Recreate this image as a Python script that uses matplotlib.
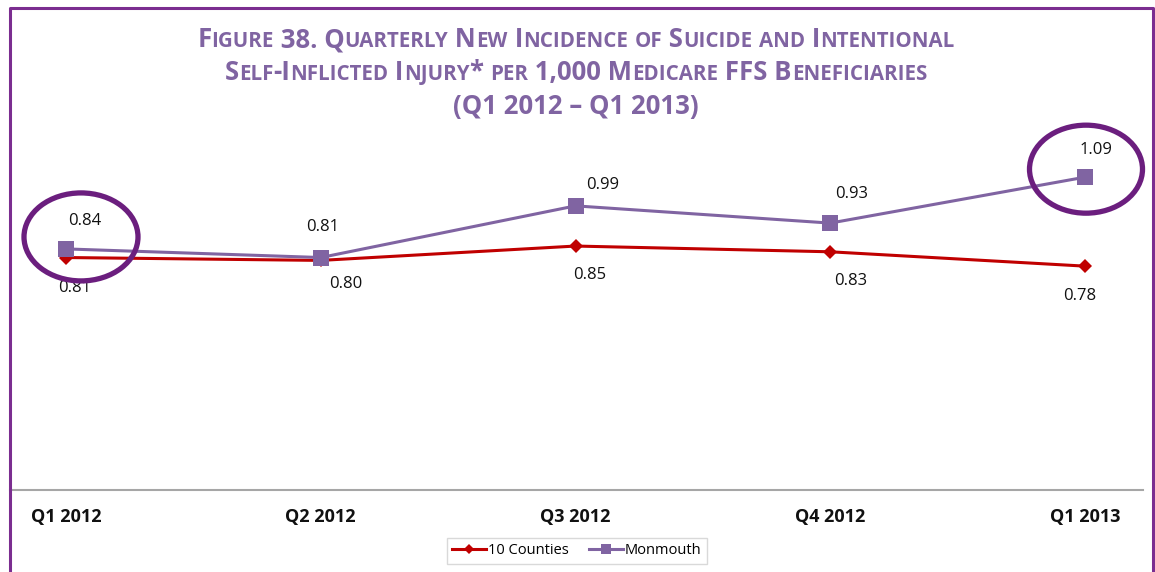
import matplotlib
matplotlib.use('Agg')
import matplotlib.pyplot as plt
import matplotlib.transforms as mtransforms
from matplotlib.patches import Ellipse
from matplotlib.lines import Line2D

# ---------------------------------------------
# data
# ---------------------------------------------
quarters = ['Q1 2012', 'Q2 2012', 'Q3 2012', 'Q4 2012', 'Q1 2013']
counties = [0.81, 0.80, 0.85, 0.83, 0.78]
monmouth = [0.84, 0.81, 0.99, 0.93, 1.09]
highlight = [0, 4]          # Monmouth points that get circled

title_lines = [
    'Figure 38. Quarterly New Incidence of Suicide and Intentional',
    'Self-Inflicted Injury* per 1,000 Medicare FFS Beneficiaries',
    '(Q1 2012 \u2013 Q1 2013)',
]

# ---------------------------------------------
# style
# ---------------------------------------------
RED = '#C00000'
PURPLE = '#8064A2'
TITLE_C = '#8064A2'
FRAME_C = '#7B2D90'
RING_C = '#6B1E7E'
W, H = 1155, 572

# label offsets in pixels (dx, dy), dy positive = up
mon_off = [(19, 28), (2, 31), (27, 21), (21, 29), (11, 27)]
cty_off = [(9, -30), (25, -24), (14, -29), (20, -29), (-5, -30)]
# circles: offset from point, width, height (pixels)
rings = [((15, 12), 114, 88), ((1, 8), 113, 88)]

plt.rcParams['font.family'] = ['Open Sans', 'DejaVu Sans']

fig = plt.figure(figsize=(W / 100, H / 100), dpi=100)
fig.patch.set_facecolor('white')

# plot area: x=0 at px 66, x=4 at px 1085 ; y=0 at px 490, 287 px per unit
px_per_x = (1085 - 66) / 4
px_per_y = 287
left_px, right_px, base_px = 10, 1143, 490
ymax = 1.2
ax = fig.add_axes([left_px / W, 1 - base_px / H,
                   (right_px - left_px) / W, ymax * px_per_y / H])
ax.set_xlim(-(66 - left_px) / px_per_x, 4 + (right_px - 1085) / px_per_x)
ax.set_ylim(0, ymax)

x = list(range(len(quarters)))
ax.plot(x, counties, color=RED, lw=2.2, marker='D', ms=7.2,
        mew=0, label='10 Counties', zorder=3)
ax.plot(x, monmouth, color=PURPLE, lw=2.2, marker='s', ms=11.5,
        mew=0, label='Monmouth', zorder=4)

for i in x:
    ax.annotate(f'{monmouth[i]:.2f}', (i, monmouth[i]),
                xytext=(mon_off[i][0] * 0.72, mon_off[i][1] * 0.72),
                textcoords='offset points', ha='center', va='center',
                fontsize=12, color='#111111')
    ax.annotate(f'{counties[i]:.2f}', (i, counties[i]),
                xytext=(cty_off[i][0] * 0.72, cty_off[i][1] * 0.72),
                textcoords='offset points', ha='center', va='center',
                fontsize=12, color='#111111')

# rings around the highlighted Monmouth values
for (off, rw, rh), i in zip(rings, highlight):
    tr = fig.dpi_scale_trans + mtransforms.ScaledTranslation(
        i, monmouth[i], ax.transData)
    ax.add_patch(Ellipse((off[0] / 100, off[1] / 100), rw / 100, rh / 100,
                         transform=tr, fill=False, ec=RING_C, lw=3.8,
                         clip_on=False, zorder=5))

for s in ['top', 'right', 'left']:
    ax.spines[s].set_visible(False)
ax.spines['bottom'].set_color('#A6A6A6')
ax.spines['bottom'].set_linewidth(1.5)
ax.set_yticks([])
ax.set_xticks(x)
ax.set_xticklabels(quarters, fontweight='bold', fontsize=13, color='#111111')
ax.tick_params(axis='x', length=0, pad=13)

leg = fig.legend(loc='center', bbox_to_anchor=(577 / W, 1 - 551 / H),
                 ncol=2, frameon=True, fancybox=False, fontsize=10.5,
                 handlelength=2.3, handletextpad=0.15, columnspacing=1.4,
                 borderpad=0.35, markerscale=0.65)
leg.get_frame().set_edgecolor('#D0D0D0')
leg.get_frame().set_linewidth(1.0)


# small caps title: lowercase letters drawn as smaller capitals
def text_width(s, size, renderer):
    t = fig.text(0, 0, '|' + s + '|', fontsize=size, fontweight='bold')
    w = t.get_window_extent(renderer).width
    t.remove()
    t = fig.text(0, 0, '||', fontsize=size, fontweight='bold')
    w -= t.get_window_extent(renderer).width
    t.remove()
    return w


def small_caps(line, cx, base_y, size, ratio, renderer):
    runs = []
    for ch in line:
        small = ch.islower()
        if runs and runs[-1][1] == small:
            runs[-1][0] += ch
        else:
            runs.append([ch, small])
    pieces = []
    for txt, small in runs:
        sz = size * ratio if small else size
        txt = txt.upper()
        pieces.append((txt, sz, text_width(txt, sz, renderer)))
    total = sum(p[2] for p in pieces)
    xpos = cx - total / 2
    for txt, sz, w in pieces:
        fig.text(xpos / W, 1 - base_y / H, txt, fontsize=sz,
                 fontweight='bold', color=TITLE_C, ha='left', va='baseline')
        xpos += w


renderer = fig.canvas.get_renderer()
for line, base in zip(title_lines, [47, 80, 114]):
    small_caps(line, 576, base, 18.5, 0.8, renderer)

# outer frame (open at the bottom)
fx = [9.5 / W, 9.5 / W, 1153 / W, 1153 / W]
fy = [0, 1 - 7.5 / H, 1 - 7.5 / H, 0]
fig.add_artist(Line2D(fx, fy, color=FRAME_C, lw=2.2,
                      transform=fig.transFigure))

fig.savefig('out.png', dpi=100, facecolor='white')
